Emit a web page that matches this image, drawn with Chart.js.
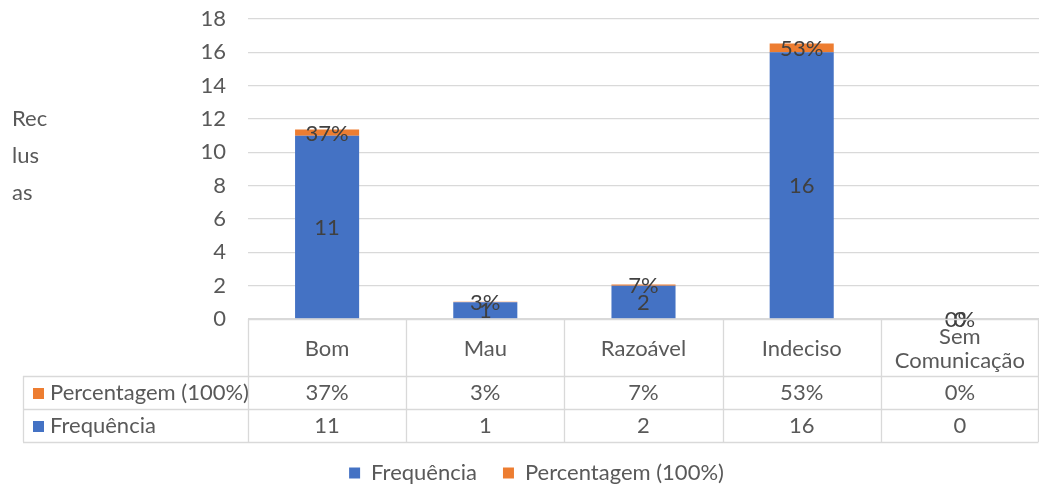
<!DOCTYPE html>
<html>
<head>
<meta charset="utf-8">
<script src="https://cdn.jsdelivr.net/npm/chart.js@4.4.1/dist/chart.umd.min.js"></script>
<style>
  html, body { margin: 0; padding: 0; background: #fff; }
</style>
</head>
<body>
<canvas id="myChart" width="1039" height="494"></canvas>
<script>
var categories = ["Bom", "Mau", "Razoável", "Indeciso", ["Sem", "Comunicação"]];
var frequencia = [11, 1, 2, 16, 0];
var percentagem = [37, 3, 7, 53, 0];
var yTicks = [0, 2, 4, 6, 8, 10, 12, 14, 16, 18];
var yTitle = ["Rec", "lus", "as"];

var FONT = "Lato, 'Open Sans', sans-serif";
var TXT = "#595959";
var GRID = "#d9d9d9";
var BLUE = "#4472C4";
var ORANGE = "#ED7D31";

var PLOT_BOTTOM = 319;

// data labels, table and y title drawn by hand
var tablePlugin = {
  id: "tablePlugin",
  afterLayout: function (chart) {
    // legend sits a bit right of the canvas centre
    chart.legend.left += 17;
    chart.legend.right += 17;
  },
  afterDatasetsDraw: function (chart) {
    var c = chart.ctx;
    c.save();
    c.font = "22px " + FONT;
    c.fillStyle = "#404040";
    c.textAlign = "center";
    c.textBaseline = "middle";
    chart.data.datasets.forEach(function (ds, di) {
      var meta = chart.getDatasetMeta(di);
      meta.data.forEach(function (bar, i) {
        var y = (bar.y + bar.base) / 2;
        var txt = di === 0 ? String(frequencia[i]) : percentagem[i] + "%";
        c.fillText(txt, bar.x, y + 1);
      });
    });
    c.restore();
  },
  afterDraw: function (chart) {
    var c = chart.ctx;
    var ca = chart.chartArea;
    var xs = chart.scales.x;
    var n = categories.length;
    var colW = (ca.right - ca.left) / n;
    var left = 23, r1 = ca.bottom, r2 = 376, r3 = 409, r4 = 442;
    var right = ca.right - 0.5;
    c.save();
    c.strokeStyle = GRID;
    c.lineWidth = 1.3;
    c.beginPath();
    c.moveTo(ca.left, r1 + 0.5); c.lineTo(right, r1 + 0.5);
    [r2, r3, r4].forEach(function (y) {
      c.moveTo(left, y + 0.5); c.lineTo(right, y + 0.5);
    });
    c.moveTo(left + 0.5, r2); c.lineTo(left + 0.5, r4);
    for (var i = 0; i <= n; i++) {
      var x = Math.round(ca.left + i * colW) + 0.5;
      if (i === n) x = right;
      c.moveTo(x, r1); c.lineTo(x, r4);
    }
    c.stroke();

    c.font = "22px " + FONT;
    c.fillStyle = TXT;
    c.textAlign = "center";
    c.textBaseline = "middle";
    categories.forEach(function (lab, i) {
      var x = xs.getPixelForValue(i);
      if (Array.isArray(lab)) {
        c.fillText(lab[0], x, 337);
        c.fillText(lab[1], x, 361);
      } else {
        c.fillText(lab, x, 349);
      }
      c.fillText(percentagem[i] + "%", x, 393);
      c.fillText(String(frequencia[i]), x, 426);
    });

    c.textAlign = "left";
    c.fillStyle = ORANGE;
    c.fillRect(33, 388, 11, 11);
    c.fillStyle = BLUE;
    c.fillRect(33, 421, 11, 11);
    c.fillStyle = TXT;
    c.fillText(chart.data.datasets[1].label, 50, 393);
    c.fillText(chart.data.datasets[0].label, 50, 426);

    yTitle.forEach(function (t, i) {
      c.fillText(t, 12, 119 + i * 37);
    });
    c.restore();
  }
};

var ctx = document.getElementById("myChart");
var myChart = new Chart(ctx, {
  type: "bar",
  data: {
    labels: categories,
    datasets: [
      {
        label: "Frequência",
        data: frequencia,
        backgroundColor: BLUE,
        categoryPercentage: 1,
        barPercentage: 0.405,
      },
      {
        label: "Percentagem (100%)",
        data: percentagem.map(function (p) { return p / 100; }),
        backgroundColor: ORANGE,
        categoryPercentage: 1,
        barPercentage: 0.405,
      },
    ],
  },
  options: {
    responsive: false,
    animation: false,
    layout: { padding: { top: 19, right: 0, left: 0, bottom: 0 } },
    plugins: {
      legend: {
        position: "bottom",
        labels: {
          font: { family: FONT, size: 22 },
          color: TXT,
          boxWidth: 11,
          boxHeight: 11,
          padding: 26,
        },
      },
      tooltip: { enabled: false },
    },
    scales: {
      x: {
        stacked: true,
        ticks: { display: false },
        grid: { display: false },
        border: { display: false },
        afterFit: function (scale) {
          scale.height = 494 - PLOT_BOTTOM - scale.chart.legend.height;
        },
      },
      y: {
        stacked: true,
        min: 0,
        max: 18,
        afterBuildTicks: function (scale) {
          scale.ticks = yTicks.map(function (v) { return { value: v }; });
        },
        ticks: {
          font: { family: FONT, size: 22 },
          color: TXT,
          padding: 0,
        },
        grid: {
          color: GRID,
          lineWidth: 1.3,
          drawTicks: true,
          tickLength: 22,
          tickColor: "rgba(0,0,0,0)",
        },
        border: { display: false },
        afterFit: function (scale) {
          scale.width = 248;
        },
      },
    },
  },
  plugins: [tablePlugin],
});
</script>
</body>
</html>
